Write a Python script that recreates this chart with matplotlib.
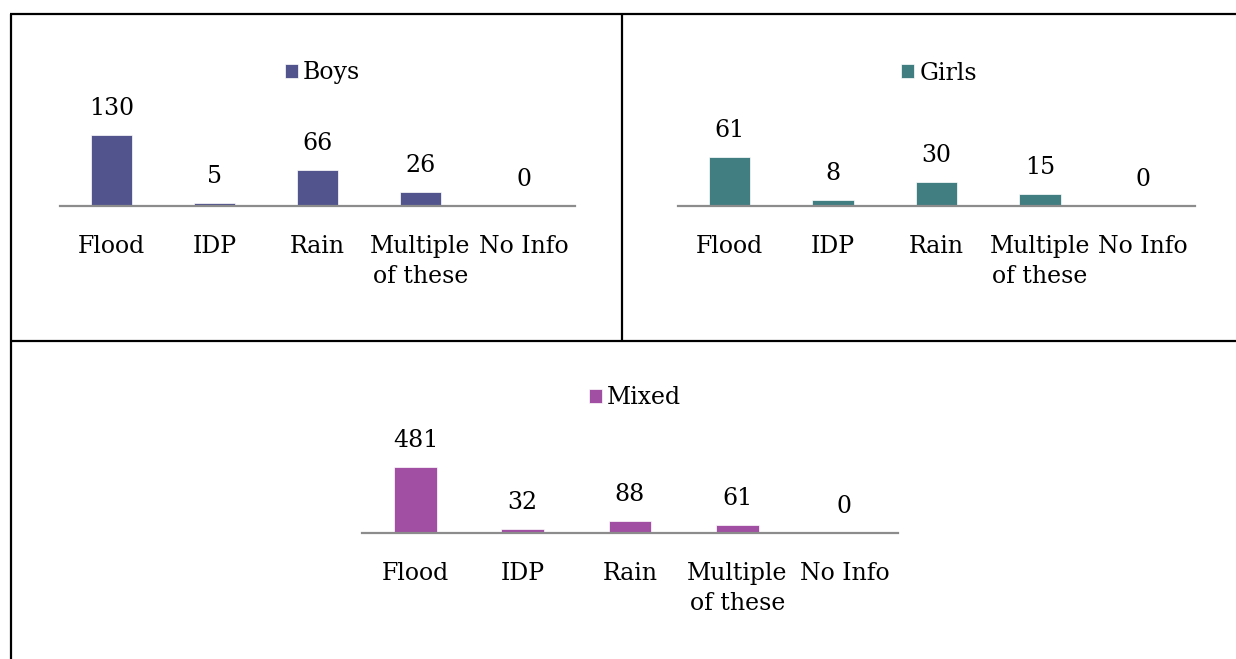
import matplotlib.pyplot as plt
from matplotlib.lines import Line2D

# categories shared by the three charts
categories = ["Flood", "IDP", "Rain", "Multiple\nof these", "No Info"]

boys = [130, 5, 66, 26, 0]
girls = [61, 8, 30, 15, 0]
mixed = [481, 32, 88, 61, 0]

W, H = 1236, 659
plt.rcParams['font.family'] = ['DejaVu Serif']
fig = plt.figure(figsize=(W / 100, H / 100), dpi=100)


def px_axes(left, right, base, height=100):
    """axes from pixel coords (y measured from top of image)"""
    return fig.add_axes([left / W, (H - base) / H, (right - left) / W, height / H])


def draw_panel(ax, values, name, color, ymax, leg_x, leg_y):
    x = range(len(categories))
    bars = ax.bar(x, values, width=0.4, color=color, edgecolor='white',
                  linewidth=0.5, label=name)
    for i, v in enumerate(values):
        ax.annotate(str(v), (i, v), xytext=(0, 19), textcoords='offset points',
                    ha='center', va='center', fontsize=17)
    ax.set_xlim(-0.5, len(categories) - 0.5)
    ax.set_ylim(0, ymax)
    ax.set_xticks(list(x))
    ax.set_xticklabels(categories, fontsize=17, linespacing=1.4)
    ax.tick_params(axis='x', length=0, pad=21)
    ax.set_yticks([])
    for s in ['top', 'left', 'right']:
        ax.spines[s].set_visible(False)
    ax.spines['bottom'].set_color('#8c8c8c')
    ax.spines['bottom'].set_linewidth(1.6)
    ax.patch.set_alpha(0)
    ax.legend(handles=[bars], loc='center', bbox_to_anchor=(leg_x, leg_y),
              frameon=False, fontsize=17, handlelength=0.55, handleheight=0.55,
              handletextpad=0.2, borderaxespad=0)


ax1 = px_axes(60, 575, 206)
draw_panel(ax1, boys, "Boys", "#52548E", 184, 0.51, 1.33)

ax2 = px_axes(678, 1195, 206)
draw_panel(ax2, girls, "Girls", "#417E81", 124.5, 0.505, 1.33)

ax3 = px_axes(362, 898, 533)
draw_panel(ax3, mixed, "Mixed", "#A04FA2", 729, 0.51, 1.35)

# table borders around the panels
def px_line(x0, y0, x1, y1):
    fig.add_artist(Line2D([x0 / W, x1 / W], [(H - y0) / H, (H - y1) / H],
                          transform=fig.transFigure, color='black', linewidth=1.6,
                          solid_capstyle='butt'))

px_line(10, 14, W, 14)
px_line(11, 14, 11, H)
px_line(622, 14, 622, 341)
px_line(11, 341, W, 341)

fig.savefig("out.png", dpi=100)
